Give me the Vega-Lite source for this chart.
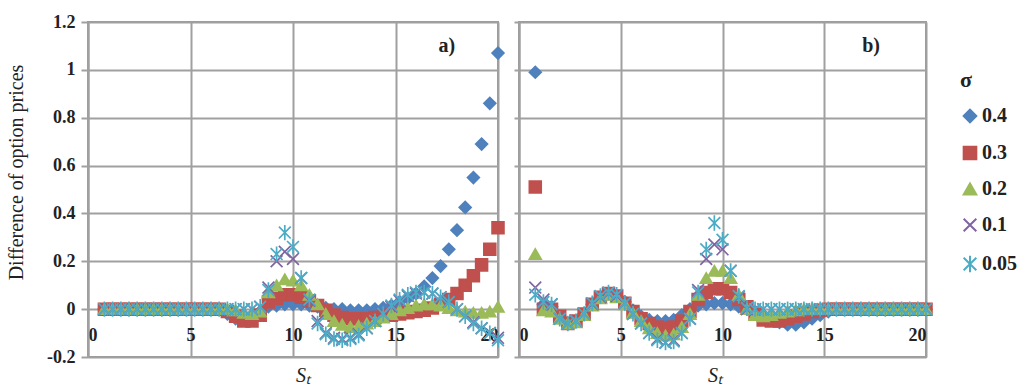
{
  "$schema": "https://vega.github.io/schema/vega-lite/v6.json",
  "autosize": {"type": "pad"},
  "padding": {"left": 5, "top": 12, "right": 0, "bottom": 0},
  "background": "white",
  "datasets": {
    "d": [
      {"p":"a","x":0.8,"s4":0,"s3":0,"s2":0,"s1":0,"s05":0},
      {"p":"a","x":1.2,"s4":0,"s3":0,"s2":0,"s1":0,"s05":0},
      {"p":"a","x":1.6,"s4":0,"s3":0,"s2":0,"s1":0,"s05":0},
      {"p":"a","x":2.0,"s4":0,"s3":0,"s2":0,"s1":0,"s05":0},
      {"p":"a","x":2.4,"s4":0,"s3":0,"s2":0,"s1":0,"s05":0},
      {"p":"a","x":2.8,"s4":0,"s3":0,"s2":0,"s1":0,"s05":0},
      {"p":"a","x":3.2,"s4":0,"s3":0,"s2":0,"s1":0,"s05":0},
      {"p":"a","x":3.6,"s4":0,"s3":0,"s2":0,"s1":0,"s05":0},
      {"p":"a","x":4.0,"s4":0,"s3":0,"s2":0,"s1":0,"s05":0},
      {"p":"a","x":4.4,"s4":0,"s3":0,"s2":0,"s1":0,"s05":0},
      {"p":"a","x":4.8,"s4":0,"s3":0,"s2":0,"s1":0,"s05":0},
      {"p":"a","x":5.2,"s4":0,"s3":0,"s2":0,"s1":0,"s05":0},
      {"p":"a","x":5.6,"s4":0,"s3":0,"s2":0,"s1":0,"s05":0},
      {"p":"a","x":6.0,"s4":0,"s3":0,"s2":0,"s1":0,"s05":0},
      {"p":"a","x":6.4,"s4":0,"s3":0,"s2":0,"s1":0,"s05":0},
      {"p":"a","x":6.8,"s4":-0.02,"s3":-0.01,"s2":0,"s1":0,"s05":0},
      {"p":"a","x":7.2,"s4":-0.04,"s3":-0.03,"s2":-0.005,"s1":0,"s05":0},
      {"p":"a","x":7.6,"s4":-0.04,"s3":-0.05,"s2":-0.015,"s1":0,"s05":0},
      {"p":"a","x":8.0,"s4":-0.03,"s3":-0.05,"s2":-0.02,"s1":0,"s05":0},
      {"p":"a","x":8.4,"s4":-0.01,"s3":-0.025,"s2":-0.01,"s1":0.01,"s05":0.01},
      {"p":"a","x":8.8,"s4":0.01,"s3":0.03,"s2":0.07,"s1":0.09,"s05":0.08},
      {"p":"a","x":9.2,"s4":0.015,"s3":0.045,"s2":0.1,"s1":0.2,"s05":0.23},
      {"p":"a","x":9.6,"s4":0.02,"s3":0.06,"s2":0.125,"s1":0.24,"s05":0.32},
      {"p":"a","x":10.0,"s4":0.02,"s3":0.06,"s2":0.12,"s1":0.21,"s05":0.26},
      {"p":"a","x":10.4,"s4":0.02,"s3":0.05,"s2":0.1,"s1":0.13,"s05":0.13},
      {"p":"a","x":10.8,"s4":0.015,"s3":0.035,"s2":0.06,"s1":0.035,"s05":0.04},
      {"p":"a","x":11.2,"s4":0.01,"s3":0.015,"s2":0.02,"s1":-0.05,"s05":-0.06},
      {"p":"a","x":11.6,"s4":0.005,"s3":-0.005,"s2":-0.02,"s1":-0.1,"s05":-0.105},
      {"p":"a","x":12.0,"s4":0,"s3":-0.025,"s2":-0.05,"s1":-0.12,"s05":-0.125},
      {"p":"a","x":12.4,"s4":0,"s3":-0.035,"s2":-0.065,"s1":-0.125,"s05":-0.13},
      {"p":"a","x":12.8,"s4":-0.005,"s3":-0.04,"s2":-0.075,"s1":-0.12,"s05":-0.125},
      {"p":"a","x":13.2,"s4":-0.005,"s3":-0.04,"s2":-0.07,"s1":-0.105,"s05":-0.11},
      {"p":"a","x":13.6,"s4":-0.005,"s3":-0.04,"s2":-0.06,"s1":-0.08,"s05":-0.08},
      {"p":"a","x":14.0,"s4":0,"s3":-0.035,"s2":-0.05,"s1":-0.05,"s05":-0.05},
      {"p":"a","x":14.4,"s4":0.005,"s3":-0.03,"s2":-0.035,"s1":-0.02,"s05":-0.02},
      {"p":"a","x":14.8,"s4":0.015,"s3":-0.025,"s2":-0.02,"s1":0.01,"s05":0.015},
      {"p":"a","x":15.2,"s4":0.03,"s3":-0.02,"s2":-0.005,"s1":0.035,"s05":0.04},
      {"p":"a","x":15.6,"s4":0.045,"s3":-0.015,"s2":0.005,"s1":0.055,"s05":0.06},
      {"p":"a","x":16.0,"s4":0.065,"s3":-0.01,"s2":0.015,"s1":0.065,"s05":0.07},
      {"p":"a","x":16.4,"s4":0.095,"s3":-0.005,"s2":0.02,"s1":0.07,"s05":0.07},
      {"p":"a","x":16.8,"s4":0.13,"s3":0.005,"s2":0.02,"s1":0.065,"s05":0.065},
      {"p":"a","x":17.2,"s4":0.18,"s3":0.02,"s2":0.015,"s1":0.05,"s05":0.05},
      {"p":"a","x":17.6,"s4":0.25,"s3":0.04,"s2":0.005,"s1":0.03,"s05":0.03},
      {"p":"a","x":18.0,"s4":0.33,"s3":0.065,"s2":-0.005,"s1":0,"s05":0},
      {"p":"a","x":18.4,"s4":0.425,"s3":0.1,"s2":-0.01,"s1":-0.03,"s05":-0.03},
      {"p":"a","x":18.8,"s4":0.55,"s3":0.14,"s2":-0.015,"s1":-0.055,"s05":-0.06},
      {"p":"a","x":19.2,"s4":0.69,"s3":0.185,"s2":-0.015,"s1":-0.08,"s05":-0.08},
      {"p":"a","x":19.6,"s4":0.86,"s3":0.25,"s2":-0.01,"s1":-0.1,"s05":-0.1},
      {"p":"a","x":20.0,"s4":1.07,"s3":0.34,"s2":0.01,"s1":-0.12,"s05":-0.13},
      {"p":"b","x":0.8,"s4":0.99,"s3":0.51,"s2":0.23,"s1":0.09,"s05":0.06},
      {"p":"b","x":1.2,"s4":0.02,"s3":0,"s2":-0.005,"s1":0.04,"s05":0.03},
      {"p":"b","x":1.6,"s4":0.01,"s3":0,"s2":-0.01,"s1":0.02,"s05":0.02},
      {"p":"b","x":2.0,"s4":-0.03,"s3":-0.03,"s2":-0.04,"s1":-0.04,"s05":-0.04},
      {"p":"b","x":2.4,"s4":-0.06,"s3":-0.06,"s2":-0.06,"s1":-0.06,"s05":-0.06},
      {"p":"b","x":2.8,"s4":-0.05,"s3":-0.05,"s2":-0.055,"s1":-0.05,"s05":-0.05},
      {"p":"b","x":3.2,"s4":-0.02,"s3":-0.02,"s2":-0.025,"s1":-0.02,"s05":-0.02},
      {"p":"b","x":3.6,"s4":0.02,"s3":0.02,"s2":0.015,"s1":0.02,"s05":0.025},
      {"p":"b","x":4.0,"s4":0.05,"s3":0.05,"s2":0.045,"s1":0.05,"s05":0.055},
      {"p":"b","x":4.4,"s4":0.065,"s3":0.065,"s2":0.06,"s1":0.065,"s05":0.07},
      {"p":"b","x":4.8,"s4":0.055,"s3":0.055,"s2":0.05,"s1":0.055,"s05":0.06},
      {"p":"b","x":5.2,"s4":0.03,"s3":0.025,"s2":0.02,"s1":0.025,"s05":0.025},
      {"p":"b","x":5.6,"s4":-0.005,"s3":-0.01,"s2":-0.015,"s1":-0.02,"s05":-0.02},
      {"p":"b","x":6.0,"s4":-0.03,"s3":-0.04,"s2":-0.05,"s1":-0.06,"s05":-0.06},
      {"p":"b","x":6.4,"s4":-0.045,"s3":-0.06,"s2":-0.08,"s1":-0.1,"s05":-0.1},
      {"p":"b","x":6.8,"s4":-0.05,"s3":-0.075,"s2":-0.1,"s1":-0.125,"s05":-0.13},
      {"p":"b","x":7.2,"s4":-0.05,"s3":-0.08,"s2":-0.11,"s1":-0.14,"s05":-0.14},
      {"p":"b","x":7.6,"s4":-0.045,"s3":-0.075,"s2":-0.105,"s1":-0.13,"s05":-0.135},
      {"p":"b","x":8.0,"s4":-0.025,"s3":-0.05,"s2":-0.075,"s1":-0.1,"s05":-0.1},
      {"p":"b","x":8.4,"s4":0,"s3":-0.01,"s2":-0.02,"s1":-0.04,"s05":-0.04},
      {"p":"b","x":8.8,"s4":0.015,"s3":0.04,"s2":0.06,"s1":0.08,"s05":0.07},
      {"p":"b","x":9.2,"s4":0.02,"s3":0.07,"s2":0.13,"s1":0.21,"s05":0.25},
      {"p":"b","x":9.6,"s4":0.025,"s3":0.085,"s2":0.16,"s1":0.27,"s05":0.36},
      {"p":"b","x":10.0,"s4":0.025,"s3":0.085,"s2":0.16,"s1":0.25,"s05":0.29},
      {"p":"b","x":10.4,"s4":0.02,"s3":0.07,"s2":0.13,"s1":0.16,"s05":0.16},
      {"p":"b","x":10.8,"s4":0.01,"s3":0.04,"s2":0.06,"s1":0.05,"s05":0.055},
      {"p":"b","x":11.2,"s4":0,"s3":0.01,"s2":0,"s1":0,"s05":0.005},
      {"p":"b","x":11.6,"s4":-0.01,"s3":-0.02,"s2":-0.025,"s1":0,"s05":0},
      {"p":"b","x":12.0,"s4":-0.025,"s3":-0.045,"s2":-0.03,"s1":0,"s05":0},
      {"p":"b","x":12.4,"s4":-0.04,"s3":-0.05,"s2":-0.025,"s1":0,"s05":0},
      {"p":"b","x":12.8,"s4":-0.055,"s3":-0.05,"s2":-0.015,"s1":0,"s05":0},
      {"p":"b","x":13.2,"s4":-0.065,"s3":-0.04,"s2":-0.01,"s1":0,"s05":0},
      {"p":"b","x":13.6,"s4":-0.065,"s3":-0.03,"s2":-0.005,"s1":0,"s05":0},
      {"p":"b","x":14.0,"s4":-0.055,"s3":-0.02,"s2":0,"s1":0,"s05":0},
      {"p":"b","x":14.4,"s4":-0.04,"s3":-0.01,"s2":0,"s1":0,"s05":0},
      {"p":"b","x":14.8,"s4":-0.025,"s3":-0.005,"s2":0,"s1":0,"s05":0},
      {"p":"b","x":15.2,"s4":-0.01,"s3":0,"s2":0,"s1":0,"s05":0},
      {"p":"b","x":15.6,"s4":0,"s3":0,"s2":0,"s1":0,"s05":0},
      {"p":"b","x":16.0,"s4":0,"s3":0,"s2":0,"s1":0,"s05":0},
      {"p":"b","x":16.4,"s4":0,"s3":0,"s2":0,"s1":0,"s05":0},
      {"p":"b","x":16.8,"s4":0,"s3":0,"s2":0,"s1":0,"s05":0},
      {"p":"b","x":17.2,"s4":0,"s3":0,"s2":0,"s1":0,"s05":0},
      {"p":"b","x":17.6,"s4":0,"s3":0,"s2":0,"s1":0,"s05":0},
      {"p":"b","x":18.0,"s4":0,"s3":0,"s2":0,"s1":0,"s05":0},
      {"p":"b","x":18.4,"s4":0,"s3":0,"s2":0,"s1":0,"s05":0},
      {"p":"b","x":18.8,"s4":0,"s3":0,"s2":0,"s1":0,"s05":0},
      {"p":"b","x":19.2,"s4":0,"s3":0,"s2":0,"s1":0,"s05":0},
      {"p":"b","x":19.6,"s4":0,"s3":0,"s2":0,"s1":0,"s05":0},
      {"p":"b","x":20.0,"s4":0,"s3":0,"s2":0,"s1":0,"s05":0}
    ]
  },
  "spacing": 3,
  "hconcat": [
    {
      "width": 410,
      "height": 335,
      "layer": [
        {
          "data": {"name": "d"},
          "transform": [
            {"filter": "datum.p == 'a'"},
            {"fold": ["s4", "s3", "s2", "s1", "s05"], "as": ["sigma", "v"]}
          ],
          "mark": {"type": "point", "filled": true, "opacity": 1, "size": 140, "strokeWidth": 1.7},
          "encoding": {
            "x": {"field": "x", "type": "quantitative", "scale": {"domain": [0, 20], "nice": false},
                  "axis": {"values": [0, 5, 10, 15, 20], "format": "d", "offset": -48, "labelPadding": 17, "ticks": false, "domain": false, "labelFlush": true,
                           "title": "Sₜ", "titleFontStyle": "italic", "titleFontSize": 20, "titleBaseline": "top", "titleY": 56, "titleX": 215}},
            "y": {"field": "v", "type": "quantitative", "scale": {"domain": [-0.2, 1.2], "nice": false},
                  "axis": {"values": [-0.2, 0, 0.2, 0.4, 0.6, 0.8, 1, 1.2], "labelExpr": "replace(format(datum.value, '.1~f'), '\u2212', '-')",
                           "tickSize": 7, "labelPadding": 6, "title": "Difference of option prices", "titleFontSize": 20, "titleX": -62, "titleY": 150}},
            "shape": {"field": "sigma", "type": "nominal", "title": "σ",
                      "scale": {"domain": ["s4", "s3", "s2", "s1", "s05"], "range": ["diamond", "square", "triangle-up", "M-1,-1L1,1M1,-1L-1,1", "M-1,-1L1,1M1,-1L-1,1M0,-1.3L0,1.3"]},
                      "legend": {"labelExpr": "datum.value == 's4' ? '0.4' : datum.value == 's3' ? '0.3' : datum.value == 's2' ? '0.2' : datum.value == 's1' ? '0.1' : '0.05'"}},
            "fill": {"field": "sigma", "type": "nominal", "title": "σ",
                     "scale": {"domain": ["s4", "s3", "s2", "s1", "s05"], "range": ["#4F81BD", "#C0504D", "#9BBB59", "transparent", "transparent"]},
                     "legend": {"labelExpr": "datum.value == 's4' ? '0.4' : datum.value == 's3' ? '0.3' : datum.value == 's2' ? '0.2' : datum.value == 's1' ? '0.1' : '0.05'"}},
            "stroke": {"field": "sigma", "type": "nominal", "title": "σ",
                       "scale": {"domain": ["s4", "s3", "s2", "s1", "s05"], "range": ["#4F81BD", "#C0504D", "#9BBB59", "#8064A2", "#4BACC6"]},
                       "legend": {"labelExpr": "datum.value == 's4' ? '0.4' : datum.value == 's3' ? '0.3' : datum.value == 's2' ? '0.2' : datum.value == 's1' ? '0.1' : '0.05'"}},
            "order": {"field": "sigma", "sort": "descending"}
          }
        },
        {
          "data": {"values": [{}]},
          "mark": {"type": "text", "text": "a)", "fontSize": 20, "fontWeight": "bold", "font": "Liberation Serif", "color": "#222"},
          "encoding": {"x": {"datum": 17.5}, "y": {"datum": 1.1}}
        }
      ]
    },
    {
      "width": 407,
      "height": 335,
      "layer": [
        {
          "data": {"name": "d"},
          "transform": [
            {"filter": "datum.p == 'b'"},
            {"fold": ["s4", "s3", "s2", "s1", "s05"], "as": ["sigma", "v"]}
          ],
          "mark": {"type": "point", "filled": true, "opacity": 1, "size": 140, "strokeWidth": 1.7},
          "encoding": {
            "x": {"field": "x", "type": "quantitative", "scale": {"domain": [0, 20], "nice": false},
                  "axis": {"values": [0, 5, 10, 15, 20], "format": "d", "offset": -48, "labelPadding": 17, "ticks": false, "domain": false, "labelFlush": true,
                           "title": "Sₜ", "titleFontStyle": "italic", "titleFontSize": 20, "titleBaseline": "top", "titleY": 56, "titleX": 196}},
            "y": {"field": "v", "type": "quantitative", "scale": {"domain": [-0.2, 1.2], "nice": false},
                  "axis": {"values": [-0.2, 0, 0.2, 0.4, 0.6, 0.8, 1, 1.2], "labels": false, "tickSize": 5, "title": null, "minExtent": 0}},
            "shape": {"field": "sigma", "type": "nominal", "title": "σ"},
            "fill": {"field": "sigma", "type": "nominal", "title": "σ"},
            "stroke": {"field": "sigma", "type": "nominal", "title": "σ"},
            "order": {"field": "sigma", "sort": "descending"}
          }
        },
        {
          "data": {"values": [{}]},
          "mark": {"type": "text", "text": "b)", "fontSize": 20, "fontWeight": "bold", "font": "Liberation Serif", "color": "#222"},
          "encoding": {"x": {"datum": 17.3}, "y": {"datum": 1.1}}
        }
      ]
    }
  ],
  "resolve": {"scale": {"shape": "shared", "fill": "shared", "stroke": "shared"}},
  "config": {
    "font": "Liberation Serif",
    "view": {"stroke": "#9a9a9a", "strokeWidth": 2},
    "axis": {
      "gridColor": "#a0a0a0", "gridWidth": 2, "gridOpacity": 1,
      "domainColor": "#a0a0a0", "domainWidth": 2,
      "tickColor": "#a0a0a0", "tickWidth": 2,
      "labelFont": "Liberation Serif", "labelFontSize": 18, "labelFontWeight": "bold", "labelColor": "#222",
      "titleFont": "Liberation Serif", "titleFontWeight": "normal", "titleColor": "#222"
    },
    "legend": {
      "orient": "none", "legendX": 872, "legendY": 48,
      "symbolSize": 160, "symbolStrokeWidth": 2, "symbolOpacity": 1,
      "labelFont": "Liberation Serif", "labelFontSize": 20, "labelFontWeight": "bold", "labelColor": "#222", "labelOffset": 2,
      "titleFont": "Liberation Serif", "titleFontSize": 22, "titleFontWeight": "bold", "titleColor": "#222", "titlePadding": 14,
      "rowPadding": 15, "padding": 0
    },
    "point": {"opacity": 1}
  }
}
